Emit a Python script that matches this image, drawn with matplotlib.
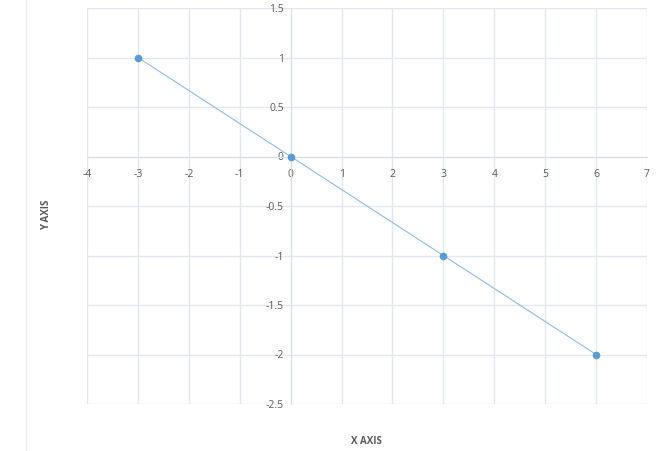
import numpy as np
from matplotlib import pyplot as plt
from matplotlib.lines import Line2D

x_vals = [-3, 0, 3, 6]
y_vals = [1, 0, -1, -2]
x_ticks = [-4, -3, -2, -1, 0, 1, 2, 3, 4, 5, 6, 7]
y_ticks = [-2.5, -2, -1.5, -1, -0.5, 0, 0.5, 1, 1.5]

grid_col = "#e3e7ee"
text_col = "#595959"
blue = "#5b9bd5"

plt.rcParams['font.family'] = ['Open Sans', 'DejaVu Sans']

fig = plt.figure(figsize=(6.57, 4.51), dpi=100)
ax = fig.add_axes([87 / 657, 1 - 404 / 451, 560 / 657, 396 / 451])

ax.plot(x_vals, y_vals, color="#8fbbe3", linewidth=0.8, zorder=3)
ax.plot(x_vals, y_vals, linestyle='none', marker='o', markersize=4.5,
        markerfacecolor=blue, markeredgecolor=blue, zorder=4)

ax.set_xlim(-4, 7)
ax.set_ylim(-2.5, 1.5)
ax.set_xticks(x_ticks)
ax.set_yticks(y_ticks)
ax.set_xticklabels([str(v) for v in x_ticks])
ax.set_yticklabels(['{:g}'.format(v) for v in y_ticks])
ax.grid(True, color=grid_col, linewidth=1)
ax.set_axisbelow(True)

for side in ['top', 'right']:
    ax.spines[side].set_visible(False)
ax.spines['left'].set_position(('data', 0))
ax.spines['bottom'].set_position(('data', 0))
ax.spines['left'].set_color("#d9dde5")
ax.spines['bottom'].set_color("#d9dde5")
ax.tick_params(length=0, labelsize=7.5, labelcolor=text_col)
ax.tick_params(axis='x', pad=9)
ax.tick_params(axis='y', pad=5)

fig.text(366 / 657, 1 - 441 / 451, "X AXIS", ha='center', va='center',
         fontsize=7, fontweight='bold', color=text_col)
fig.text(47 / 657, 1 - 215 / 451, "Y AXIS", ha='center', va='center',
         fontsize=7, fontweight='bold', color=text_col, rotation=90)

fig.add_artist(Line2D([26 / 657, 26 / 657], [0, 1], color="#eeeeee", linewidth=1))

fig.savefig("out.png", dpi=100)
